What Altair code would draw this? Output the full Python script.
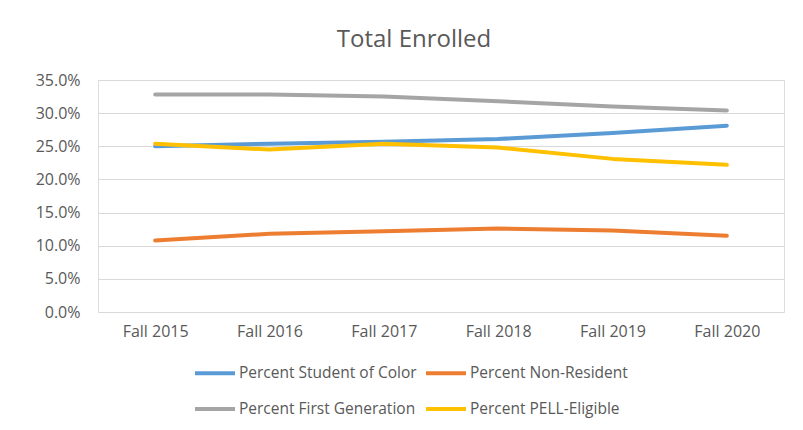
import altair as alt
import pandas as pd

terms = ["Fall 2015", "Fall 2016", "Fall 2017", "Fall 2018", "Fall 2019", "Fall 2020"]
series_names = ["Percent Student of Color", "Percent Non-Resident",
                "Percent First Generation", "Percent PELL-Eligible"]
student_of_color = [0.250, 0.254, 0.257, 0.261, 0.270, 0.281]
non_resident = [0.108, 0.118, 0.122, 0.126, 0.123, 0.115]
first_generation = [0.328, 0.328, 0.325, 0.318, 0.310, 0.304]
pell_eligible = [0.254, 0.245, 0.254, 0.248, 0.231, 0.222]
colors = ["#5B9BD5", "#ED7D31", "#A5A5A5", "#FFC000"]

rows = []
for name, vals in zip(series_names, [student_of_color, non_resident, first_generation, pell_eligible]):
    for t, v in zip(terms, vals):
        rows.append({"term": t, "series": name, "value": v})
df = pd.DataFrame(rows)

FONT = "Open Sans"
TXT = "#595959"

chart = alt.Chart(df).mark_line(strokeWidth=4, strokeCap="round", strokeJoin="round").encode(
    x=alt.X("term:O", sort=terms, title=None,
            scale=alt.Scale(type="point", padding=0.5),
            axis=alt.Axis(labelAngle=0, ticks=False, domain=False, grid=False,
                          labelFont=FONT, labelFontSize=16, labelColor=TXT, labelPadding=11)),
    y=alt.Y("value:Q", title=None,
            scale=alt.Scale(domain=[0, 0.35], nice=False),
            axis=alt.Axis(format=".1%", values=[0, 0.05, 0.10, 0.15, 0.20, 0.25, 0.30, 0.35],
                          ticks=False, domain=False, gridColor="#d9d9d9", gridWidth=1,
                          labelFont=FONT, labelFontSize=16, labelColor=TXT, labelPadding=18)),
    color=alt.Color("series:N", sort=series_names,
                    scale=alt.Scale(domain=series_names, range=colors),
                    legend=alt.Legend(title=None, orient="none", legendX=95, legendY=271,
                                      columns=2, direction="horizontal",
                                      symbolType="stroke", symbolSize=1600, symbolStrokeWidth=4,
                                      labelFont=FONT, labelFontSize=15.5, labelColor=TXT,
                                      labelLimit=0, labelOffset=2, columnPadding=1, rowPadding=5)),
    order=alt.Order("series:N")
).properties(
    width=686, height=232,
    autosize=alt.AutoSizeParams(type="none"),
    padding={"left": 90, "top": 72, "right": 11, "bottom": 118},
    title=alt.Title("Total Enrolled", font=FONT, fontSize=24, fontWeight="normal",
                    color=TXT, offset=20, dx=-27)
).configure_view(stroke=None).configure(background="white")

chart.save("out.html", embed_options={"renderer": "svg", "actions": False})
